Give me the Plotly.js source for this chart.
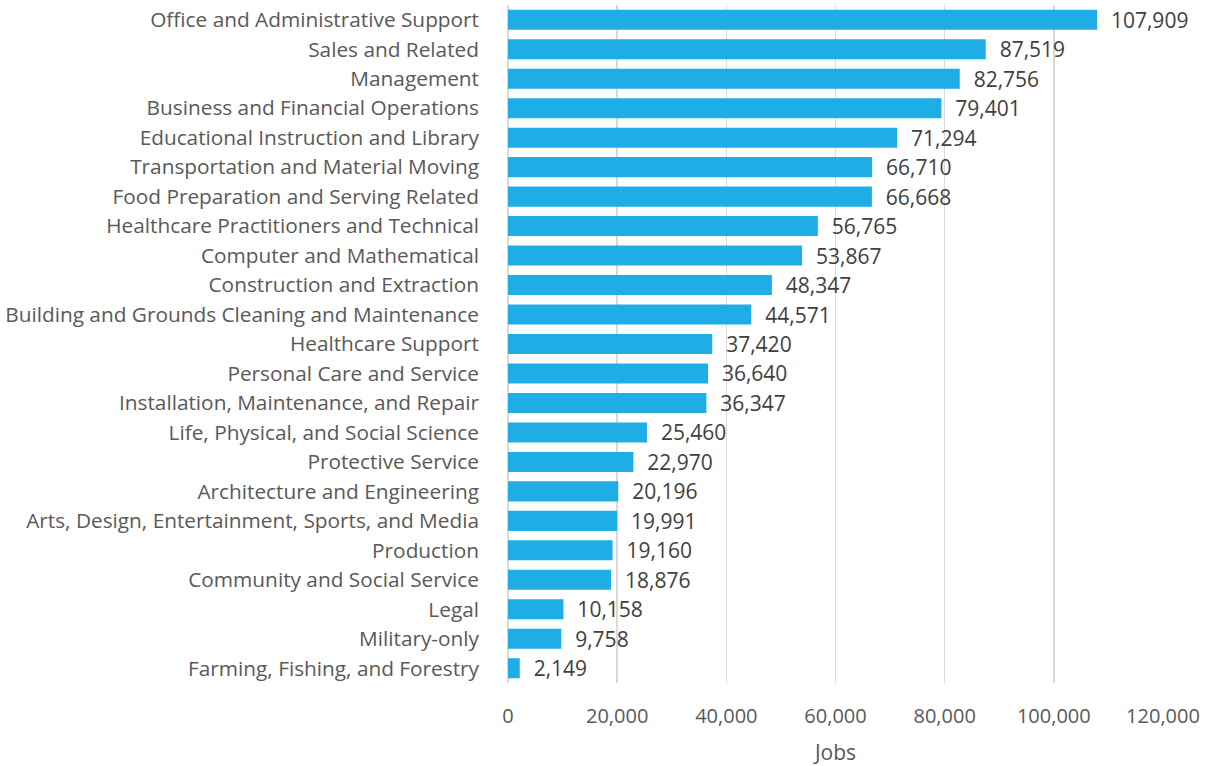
<!DOCTYPE html>
<html><head><meta charset="utf-8">
<script src="https://cdn.plot.ly/plotly-3.0.1.min.js"></script>
<style>html,body{margin:0;padding:0;background:#fff}</style>
</head><body>
<div id="chart" style="width:1211px;height:766px"></div>
<script>
const categories = [
  "Office and Administrative Support",
  "Sales and Related",
  "Management",
  "Business and Financial Operations",
  "Educational Instruction and Library",
  "Transportation and Material Moving",
  "Food Preparation and Serving Related",
  "Healthcare Practitioners and Technical",
  "Computer and Mathematical",
  "Construction and Extraction",
  "Building and Grounds Cleaning and Maintenance",
  "Healthcare Support",
  "Personal Care and Service",
  "Installation, Maintenance, and Repair",
  "Life, Physical, and Social Science",
  "Protective Service",
  "Architecture and Engineering",
  "Arts, Design, Entertainment, Sports, and Media",
  "Production",
  "Community and Social Service",
  "Legal",
  "Military-only",
  "Farming, Fishing, and Forestry"
];
const jobs = [107909, 87519, 82756, 79401, 71294, 66710, 66668, 56765, 53867, 48347, 44571, 37420, 36640, 36347, 25460, 22970, 20196, 19991, 19160, 18876, 10158, 9758, 2149];
const xTickVals = [0, 20000, 40000, 60000, 80000, 100000, 120000];

const FONT = "Open Sans, sans-serif";
Plotly.newPlot("chart", [{
  type: "bar",
  orientation: "h",
  x: jobs,
  y: categories,
  width: 0.68,
  marker: {color: "#1EADE4", line: {width: 0}},
  texttemplate: "\u00a0\u00a0%{x:,}",
  textposition: "outside",
  constraintext: "none",
  cliponaxis: false,
  textfont: {family: FONT, size: 21, color: "#404040"},
  hoverinfo: "skip"
}], {
  width: 1211, height: 766,
  margin: {l: 508, r: 48, t: 5, b: 83},
  paper_bgcolor: "#fff", plot_bgcolor: "#fff",
  showlegend: false,
  font: {family: FONT, color: "#595959"},
  xaxis: {
    range: [0, 120000],
    tickvals: xTickVals,
    tickformat: ",",
    showgrid: true, gridcolor: "#D9D9D9", gridwidth: 1.5,
    zeroline: true, zerolinecolor: "#D9D9D9", zerolinewidth: 1.5,
    showline: false,
    ticks: "", ticklabelstandoff: 19,
    tickfont: {family: FONT, size: 20, color: "#595959"},
    title: {text: "Jobs", font: {family: FONT, size: 21, color: "#595959"}, standoff: 17}
  },
  yaxis: {
    autorange: "reversed",
    showgrid: false, showline: false, zeroline: false,
    ticks: "", ticklabelstandoff: 28,
    tickfont: {family: FONT, size: 20.8, color: "#595959"}
  }
}, {displayModeBar: false, staticPlot: true});
</script>
</body></html>
